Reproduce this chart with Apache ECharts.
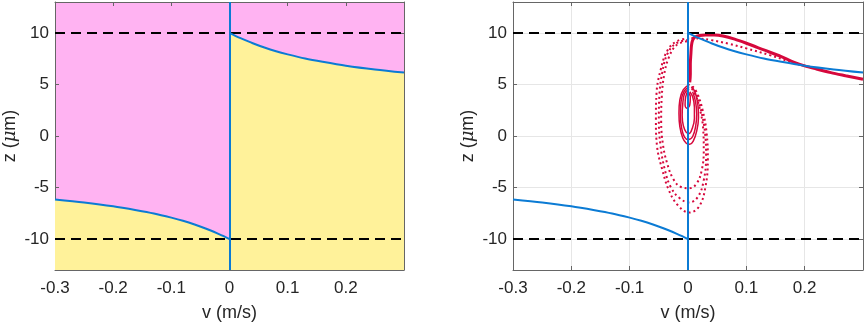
<!DOCTYPE html>
<html>
<head>
<meta charset="utf-8">
<script src="https://cdn.jsdelivr.net/npm/echarts@6/dist/echarts.min.js"></script>
<style>
  html, body { margin: 0; padding: 0; background: #fff; }
  #chart { width: 865px; height: 324px; }
</style>
</head>
<body>
<div id="chart"></div>
<script>
// axes
const vRange = [-0.3, 0.3];
const zRange = [-13, 13];
const vTicks = [-0.3, -0.2, -0.1, 0, 0.1, 0.2];
const zTicks = [-10, -5, 0, 5, 10];

// reference lines
const wallZ = [10, -10];
const wallV = [0];

// blue boundary curves (v, z)
const upperCurve = [
  [0, 10], [0.01, 9.72], [0.02, 9.47], [0.04, 9.0], [0.06, 8.58], [0.08, 8.22],
  [0.1, 7.92], [0.13, 7.52], [0.16, 7.2], [0.2, 6.82], [0.25, 6.45], [0.3, 6.15]
];
const lowerCurve = [
  [-0.3, -6.15], [-0.25, -6.45], [-0.2, -6.82], [-0.16, -7.2], [-0.13, -7.52],
  [-0.1, -7.92], [-0.08, -8.22], [-0.06, -8.58], [-0.04, -9.0], [-0.02, -9.47],
  [-0.01, -9.72], [0, -10]
];

// red trajectories (v, z)
const humpSolid = [
  [0.3, 5.5], [0.27, 5.85], [0.245, 6.15], [0.22, 6.5], [0.2, 6.8], [0.18, 7.2],
  [0.16, 7.7], [0.13, 8.35], [0.1, 9.0], [0.08, 9.4], [0.06, 9.7], [0.045, 9.8],
  [0.03, 9.8], [0.02, 9.75], [0.012, 9.6], [0.008, 9.3], [0.006, 8.8], [0.005, 8.0],
  [0.004, 7.0], [0.004, 6.0], [0.003, 5.2]
];
const humpDotted = [
  [0.2, 6.8], [0.17, 7.3], [0.14, 7.85], [0.1, 8.5], [0.07, 8.95], [0.04, 9.3],
  [0.02, 9.45], [0.01, 9.5], [0.002, 9.46]
];
const loop1 = [
  [0.002, 9.46], [-0.018, 9.23], [-0.035, 8.33], [-0.047, 6.39], [-0.054, 4.13],
  [-0.055, 1.55], [-0.053, -1.03], [-0.044, -3.29], [-0.033, -5.23], [-0.018, -6.68],
  [0.002, -7.42], [0.019, -6.84], [0.03, -4.9], [0.034, -2.32], [0.032, 0.26],
  [0.025, 2.52], [0.016, 4.13], [0.008, 4.8]
];
const loop2 = [
  [0.0, 9.3], [-0.02, 9.0], [-0.035, 8.0], [-0.044, 6.2], [-0.049, 4.0],
  [-0.05, 1.5], [-0.047, -1.0], [-0.04, -3.2], [-0.03, -4.9], [-0.015, -6.0],
  [0.002, -6.45], [0.017, -5.9], [0.027, -4.3], [0.031, -2.0], [0.029, 0.4],
  [0.022, 2.6], [0.014, 4.1], [0.006, 4.8]
];
const loop3 = [
  [-0.002, 9.2], [-0.02, 8.8], [-0.033, 7.6], [-0.041, 5.9], [-0.045, 3.8],
  [-0.046, 1.5], [-0.043, -0.8], [-0.036, -2.6], [-0.025, -4.2], [-0.012, -4.95],
  [0.002, -5.07], [0.015, -4.6], [0.024, -3.2], [0.027, -1.4], [0.026, 0.7],
  [0.02, 2.7], [0.012, 4.1], [0.005, 4.7]
];
const inner1 = [
  [0.003, 5.0], [-0.008, 4.5], [-0.014, 3.5], [-0.0155, 2.2], [-0.014, 0.9],
  [-0.009, -0.2], [-0.003, -0.7], [0.003, -0.8], [0.009, -0.5], [0.015, 0.5],
  [0.018, 1.8], [0.017, 3.0], [0.013, 4.1], [0.007, 4.8]
];
const inner2 = [
  [0.002, 4.8], [-0.007, 4.3], [-0.012, 3.3], [-0.013, 2.0], [-0.011, 0.8],
  [-0.006, -0.1], [0.001, -0.35], [0.008, -0.05], [0.013, 0.9], [0.015, 2.1],
  [0.013, 3.3], [0.008, 4.3]
];
const inner3 = [
  [0.002, 4.6], [-0.006, 4.1], [-0.009, 3.1], [-0.01, 2.0], [-0.008, 1.0],
  [-0.003, 0.35], [0.002, 0.25], [0.007, 0.7], [0.011, 1.7], [0.011, 2.8],
  [0.008, 3.8], [0.003, 4.3]
];
const innerCore = [
  [0.001, 4.5], [-0.004, 3.8], [-0.005, 3.0], [-0.002, 2.7], [0.003, 3.0],
  [0.004, 3.8], [0.001, 4.2]
];

const FONT = "'Liberation Sans', Arial, sans-serif";
const TEXT_COLOR = "#262626";
const AXIS_COLOR = "#666666";
const BLUE = "#0b7bd4";
const RED = "#d6083c";
const PINK = "#ffb3f2";
const YELLOW = "#fff29a";

const chart = echarts.init(document.getElementById("chart"));

function vAxis(gridIndex, grid, onTop) {
  return {
    type: "value",
    gridIndex: gridIndex,
    position: onTop ? "top" : "bottom",
    min: vRange[0],
    max: vRange[1],
    axisLine: { show: true, onZero: false, lineStyle: { color: AXIS_COLOR, width: 1 } },
    axisTick: { show: true, inside: true, length: 4, customValues: vTicks, lineStyle: { color: AXIS_COLOR } },
    axisLabel: {
      show: !onTop,
      customValues: vTicks,
      margin: 10,
      color: TEXT_COLOR,
      fontSize: 17,
      fontFamily: FONT,
      formatter: v => String(+v.toFixed(1))
    },
    splitLine: { show: grid && !onTop, lineStyle: { color: "#e6e6e6" } },
    name: onTop ? "" : "v (m/s)",
    nameLocation: "middle",
    nameGap: 34,
    nameMoveOverlap: false,
    nameTextStyle: { color: TEXT_COLOR, fontSize: 18, fontFamily: FONT }
  };
}

function zAxis(gridIndex, grid, onRight) {
  return {
    type: "value",
    gridIndex: gridIndex,
    position: onRight ? "right" : "left",
    min: zRange[0],
    max: zRange[1],
    axisLine: { show: true, onZero: false, lineStyle: { color: AXIS_COLOR, width: 1 } },
    axisTick: { show: true, inside: true, length: 4, customValues: zTicks, lineStyle: { color: AXIS_COLOR } },
    axisLabel: {
      show: !onRight,
      customValues: zTicks,
      margin: 6,
      color: TEXT_COLOR,
      fontSize: 17,
      fontFamily: FONT
    },
    splitLine: { show: grid && !onRight, lineStyle: { color: "#e6e6e6" } },
    name: onRight ? "" : "z ({mu|μ}m)",
    nameLocation: "middle",
    nameGap: 36,
    nameMoveOverlap: false,
    nameTextStyle: {
      color: TEXT_COLOR,
      fontSize: 18,
      fontFamily: FONT,
      rich: { mu: { fontStyle: "italic", fontSize: 18, fontFamily: "'DejaVu Serif', serif", color: TEXT_COLOR } }
    }
  };
}

function curve(data, xi, yi, extra) {
  return Object.assign({
    type: "line",
    xAxisIndex: xi,
    yAxisIndex: yi,
    data: data,
    smooth: 0.3,
    showSymbol: false,
    symbol: "none",
    silent: true,
    animation: false
  }, extra);
}

function walls(xi, yi) {
  return {
    type: "line",
    xAxisIndex: xi,
    yAxisIndex: yi,
    data: [],
    silent: true,
    z: 4,
    markLine: {
      silent: true,
      symbol: "none",
      label: { show: false },
      animation: false,
      lineStyle: { color: "#000", width: 2, type: [10, 6] },
      data: wallZ.map(z => ({ yAxis: z }))
    }
  };
}

function vertical(xi, yi) {
  return {
    type: "line",
    xAxisIndex: xi,
    yAxisIndex: yi,
    data: [],
    silent: true,
    z: 6,
    markLine: {
      silent: true,
      symbol: "none",
      label: { show: false },
      animation: false,
      lineStyle: { color: BLUE, width: 2, type: "solid" },
      data: wallV.map(v => ({ xAxis: v }))
    }
  };
}

const blueStyle = { lineStyle: { color: BLUE, width: 2 }, z: 6 };
const fillStyle = { lineStyle: { width: 0 }, areaStyle: { color: YELLOW, opacity: 1, origin: "start" }, z: 2 };
const dotStyle = { lineStyle: { color: RED, width: 2, type: [2, 3] }, z: 3, smooth: 0.4 };
const innerStyle = { lineStyle: { color: RED, width: 1.5 }, z: 3, smooth: 0.4 };

const option = {
  animation: false,
  grid: [
    { left: 55, top: 2, width: 349, height: 268, show: true, backgroundColor: PINK, borderWidth: 0, outerBoundsMode: "none" },
    { left: 513, top: 2, width: 350, height: 268, show: false, outerBoundsMode: "none" }
  ],
  xAxis: [vAxis(0, false, false), vAxis(0, false, true), vAxis(1, true, false), vAxis(1, true, true)],
  yAxis: [zAxis(0, false, false), zAxis(0, false, true), zAxis(1, true, false), zAxis(1, true, true)],
  series: [
    // left panel: filled regions
    curve(upperCurve, 0, 0, fillStyle),
    curve(lowerCurve, 0, 0, fillStyle),
    walls(0, 0),
    vertical(0, 0),
    curve(upperCurve, 0, 0, blueStyle),
    curve(lowerCurve, 0, 0, blueStyle),

    // right panel: trajectories
    curve(humpSolid, 2, 2, { lineStyle: { color: RED, width: 3 }, z: 3 }),
    curve(humpDotted, 2, 2, dotStyle),
    curve(loop1, 2, 2, dotStyle),
    curve(loop2, 2, 2, dotStyle),
    curve(loop3, 2, 2, dotStyle),
    curve(inner1, 2, 2, innerStyle),
    curve(inner2, 2, 2, innerStyle),
    curve(inner3, 2, 2, innerStyle),
    curve(innerCore, 2, 2, innerStyle),
    walls(2, 2),
    vertical(2, 2),
    curve(upperCurve, 2, 2, blueStyle),
    curve(lowerCurve, 2, 2, blueStyle)
  ]
};

chart.setOption(option);
</script>
</body>
</html>
